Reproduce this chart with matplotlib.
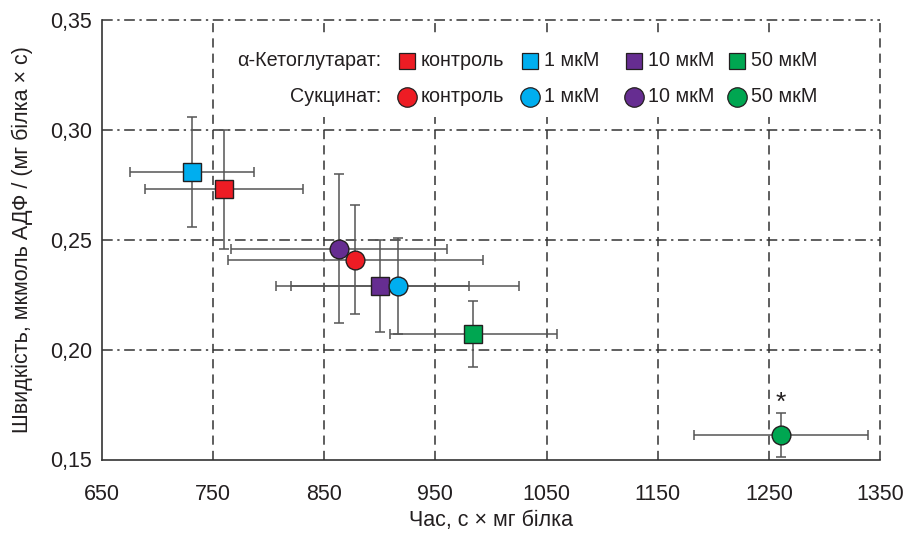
import matplotlib
matplotlib.use("Agg")
import matplotlib.pyplot as plt
from matplotlib.ticker import FuncFormatter
from matplotlib.patches import Rectangle

plt.rcParams['font.family'] = ['Liberation Sans', 'DejaVu Sans']

# ---- data ----
conc_labels = ['контроль', '1 мкМ', '10 мкМ', '50 мкМ']
colors = ['#ED1C24', '#00AEEF', '#662D91', '#00A651']

kg_x = [760, 731, 900, 984]
kg_xerr = [71, 56, 80, 75]
kg_y = [0.273, 0.281, 0.229, 0.207]
kg_yerr = [0.027, 0.025, 0.021, 0.015]

suc_x = [878, 916, 863, 1261]
suc_xerr = [115, 109, 97, 78]
suc_y = [0.241, 0.229, 0.246, 0.161]
suc_yerr = [0.025, 0.022, 0.034, 0.010]

x_ticks = [650, 750, 850, 950, 1050, 1150, 1250, 1350]
y_ticks = [0.15, 0.20, 0.25, 0.30, 0.35]

TXT = '#231f20'
W, H = 908, 538
fig = plt.figure(figsize=(W / 100, H / 100), dpi=100)
ax = fig.add_axes([102 / W, 1 - 459.5 / H, 778 / W, 439.5 / H])

ax.set_xlim(650, 1350)
ax.set_ylim(0.15, 0.35)
ax.set_xticks(x_ticks)
ax.set_yticks(y_ticks)
ax.yaxis.set_major_formatter(FuncFormatter(lambda v, p: f"{v:.2f}".replace('.', ',')))
ax.tick_params(axis='both', length=0, labelsize=15.5, colors=TXT)
ax.tick_params(axis='x', pad=18)
ax.tick_params(axis='y', pad=7)
for s in ['top', 'right']:
    ax.spines[s].set_visible(False)
for s in ['left', 'bottom']:
    ax.spines[s].set_color('#333333')
    ax.spines[s].set_linewidth(1.2)

# grid lines
for xv in x_ticks[1:]:
    ax.axvline(xv, color='#333333', lw=1.1, ls=(0, (6, 4)), zorder=1, clip_on=False)
for yv in y_ticks[1:]:
    ax.axhline(yv, color='#333333', lw=1.1, ls=(0, (7, 3, 1.5, 3)), zorder=1, clip_on=False)


def fx(px):
    return px / W


def fy(py):
    return 1 - py / H


# legend background box (covers grid)
rect = Rectangle((fx(216), fy(117)), fx(830) - fx(216), fy(38) - fy(117),
                 transform=fig.transFigure, facecolor='white', edgecolor='none', zorder=2)
fig.add_artist(rect)

ebkw = dict(fmt='none', ecolor='#555555', elinewidth=1.1, capsize=3.5, capthick=1.1, zorder=3)
ax.errorbar(kg_x, kg_y, xerr=kg_xerr, yerr=kg_yerr, **ebkw)
ax.errorbar(suc_x, suc_y, xerr=suc_xerr, yerr=suc_yerr, **ebkw)

for i in range(4):
    ax.plot(kg_x[i], kg_y[i], marker='s', ms=12.5, mfc=colors[i], mec=TXT, mew=1.0,
            ls='none', zorder=4)
for i in [2, 0, 1, 3]:
    ax.plot(suc_x[i], suc_y[i], marker='o', ms=13.5, mfc=colors[i], mec=TXT, mew=1.0,
            ls='none', zorder=4)

# significance asterisk
ax.annotate('*', (suc_x[3], suc_y[3] + suc_yerr[3]), xytext=(0, -1), textcoords='offset points',
            ha='center', va='bottom', fontsize=19, color=TXT)

# manual legend
row_y = [61, 97]
marker_px = [407, 530, 634, 737]
fs_leg = 14.2
fig.text(fx(381), fy(row_y[0]), 'α-Кетоглутарат:', ha='right', va='center', fontsize=fs_leg, color=TXT)
fig.text(fx(381), fy(row_y[1]), 'Сукцинат:', ha='right', va='center', fontsize=fs_leg, color=TXT)
for i in range(4):
    fig.add_artist(plt.Line2D([fx(marker_px[i])], [fy(row_y[0])], marker='s', ms=11,
                              mfc=colors[i], mec=TXT, mew=0.9, transform=fig.transFigure, zorder=5))
    fig.add_artist(plt.Line2D([fx(marker_px[i])], [fy(row_y[1])], marker='o', ms=14,
                              mfc=colors[i], mec=TXT, mew=0.9, transform=fig.transFigure, zorder=5))
    for ry in row_y:
        fig.text(fx(marker_px[i] + 14), fy(ry), conc_labels[i], ha='left', va='center',
                 fontsize=fs_leg, color=TXT, zorder=5)

ax.set_xlabel('Час, с × мг білка', fontsize=15.5, color=TXT, labelpad=3)
ax.set_ylabel('Швидкість, мкмоль АДФ / (мг білка × с)', fontsize=15.5, color=TXT, labelpad=12)

fig.savefig('out.png', dpi=100)
